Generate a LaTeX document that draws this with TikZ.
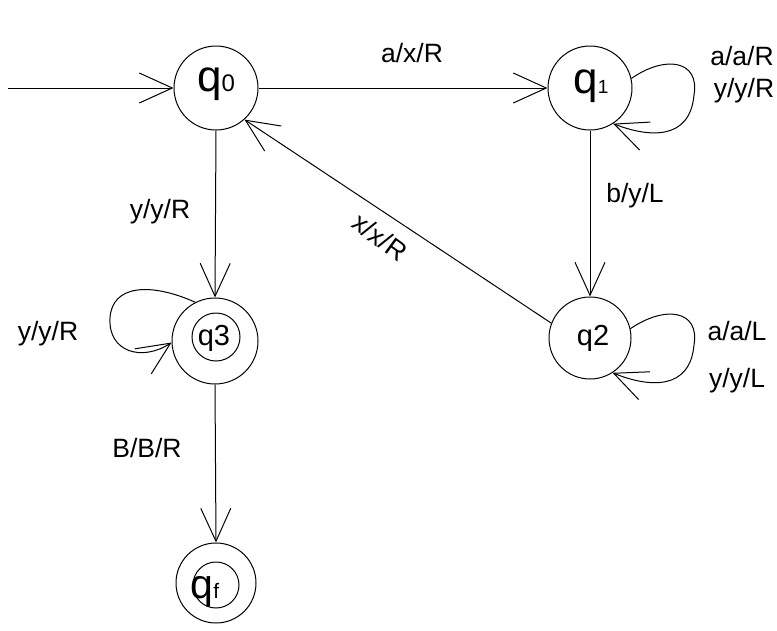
\documentclass[tikz,border=0pt]{standalone}
\usepackage{fontspec}
\setmainfont{Liberation Sans}
\usetikzlibrary{arrows.meta}
\newcommand{\qbig}[1]{{\fontsize{44}{44}\selectfont #1}}
\newcommand{\qsmall}[1]{{\fontsize{24}{24}\selectfont #1}}
\begin{document}
\begin{tikzpicture}[x=1pt,y=-1pt,line width=1pt,
  stt/.style={draw,circle,inner sep=0pt},
  arr/.style={-{Straight Barb[length=33pt,width=30pt,line width=1pt]}},
  lbl/.style={anchor=base,inner sep=0pt,font=\fontsize{26.5}{26.5}\selectfont},
  qtext/.style={anchor=base,inner sep=0pt}]
\useasboundingbox[fill=white] (0,0) rectangle (777,630);
% states
\node[stt,minimum size=84pt] (q0) at (216,88) {};
\node[stt,minimum size=84pt] (q1) at (590,88) {};
\node[stt,minimum size=82pt] (q2) at (590,338) {};
\node[stt,minimum size=86pt] (q3) at (215,341) {};
\node[stt,minimum size=80pt] (qf) at (216,583) {};
\draw (216,337) circle (24pt);
\draw (216,585) circle (23pt);
% state texts
\node[qtext] (t0) at (216,91) {\qbig{q}\qsmall{0}};
\node[qtext] (t1) at (591,93) {\qbig{q}{\fontsize{19}{19}\selectfont 1}};
\node[qtext] (t2) at (593,345) {\fontsize{29}{29}\selectfont q2};
\node[qtext] (t3) at (214,345) {\fontsize{29}{29}\selectfont q3};
\node[qtext] (tf) at (205,598) {{\fontsize{41}{41}\selectfont q}{\fontsize{21}{21}\selectfont f}};
% start
\coordinate (s) at (8,88);
\draw[arr] (s) -- (q0.west);
% transitions
\draw[arr] (q0.east) -- (q1.west);
\draw[arr] (q1.south) -- (q2.north);
\draw[arr] (q0.south) -- (q3.north);
\draw[arr] (q3.south) -- (qf.north);
\draw[arr] (q2.159) -- (q0.-48);
% loops
\draw[arr] (q1.13) .. controls (665,55) and (700,60) .. (694,95)
  .. controls (690,140) and (650,138) .. (q1.-57);
\draw[arr] (q2.13) .. controls (665,305) and (700,310) .. (694,345)
  .. controls (690,390) and (650,388) .. (q2.-57);
\draw[arr] (q3.117) .. controls (150,282) and (112,285) .. (110,318)
  .. controls (108,352) and (142,362) .. (q3.182);
% labels
\node[lbl] (l01) at (412,62) {a/x/R};
\node[lbl] (l11a) at (742,65) {a/a/R};
\node[lbl] (l11b) at (744,97) {y/y/R};
\node[lbl] (l12) at (635,202) {b/y/L};
\node[lbl] (l03) at (160,218) {y/y/R};
\node[lbl,anchor=center,rotate=-36] (l20) at (380,237) {x/x/R};
\node[lbl] (l33) at (48,340) {y/y/R};
\node[lbl] (l3f) at (147,457) {B/B/R};
\node[lbl] (l22a) at (737,340) {a/a/L};
\node[lbl] (l22b) at (737,387) {y/y/L};
\end{tikzpicture}
\end{document}
